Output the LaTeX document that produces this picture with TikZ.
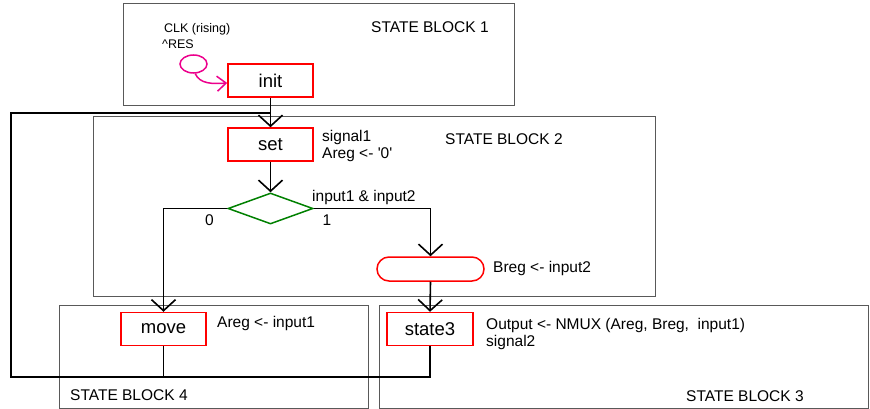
\documentclass[tikz,border=0pt]{standalone}
\usepackage{fontspec}
\setmainfont{Liberation Sans}
\usetikzlibrary{arrows.meta,shapes.geometric}
\begin{document}
\begin{tikzpicture}[x=1pt,y=-1pt,
  blockframe/.style={draw=black!65,line width=1pt},
  statebox/.style={draw=red,line width=1.5pt,minimum width=85pt,minimum height=33pt,inner sep=0pt,
    font=\fontsize{18.5}{20}\selectfont},
  decision/.style={draw=green!50!black,line width=1.5pt,diamond,minimum width=85pt,minimum height=31pt,inner sep=0pt},
  condbox/.style={draw=red,line width=1.5pt,rounded corners=12pt,minimum width=107pt,minimum height=24pt,inner sep=0pt},
  lbl/.style={inner sep=0pt,anchor=west,align=left,font=\fontsize{15.5}{17}\selectfont},
  small/.style={inner sep=0pt,anchor=west,align=left,font=\fontsize{12.5}{16}\selectfont},
  wire/.style={draw=black,line width=1.6pt},
  flow/.style={wire,-{Straight Barb[length=11pt,width=24pt,line width=1.6pt]}},
]
\useasboundingbox (0,0) rectangle (870,409);

% state blocks
\draw[blockframe] (123,4) rectangle (514,106);
\draw[blockframe] (93,117) rectangle (655,296);
\draw[blockframe] (59,305) rectangle (368,408);
\draw[blockframe] (379,305) rectangle (868,408);

\node[lbl] (sb1) at (371,27) {STATE BLOCK 1};
\node[lbl] (sb2) at (445,139) {STATE BLOCK 2};
\node[lbl] (sb4) at (70,395) {STATE BLOCK 4};
\node[lbl] (sb3) at (686,396) {STATE BLOCK 3};

% states
\node[statebox,fill=white] (init) at (270.5,80.5) {init};
\node[statebox] (set) at (270.5,144.5) {set};
\node[decision] (dia) at (270.5,208.5) {};
\node[condbox] (cond) at (430.5,269) {};
\node[statebox] (move) at (163.5,329) {move};
\node[statebox,minimum width=86pt] (state3) at (430,329) {state3};

% reset loop
\node[ellipse,draw=magenta,line width=1.5pt,minimum width=27pt,minimum height=18pt,inner sep=0pt] (res) at (193.5,64) {};
\draw[magenta,line width=1.5pt,-{Straight Barb[length=9pt,width=15pt,line width=1.5pt]}]
  (res.-80) .. controls (200,84) and (212,84) .. ([yshift=-2.5pt]init.west);
\node[small] (clk) at (162,36) {\hspace*{2pt}CLK (rising)\\\textasciicircum RES};

% annotations
\node[lbl] (act1) at (322,146) {signal1\\Areg <- \textquotesingle 0\textquotesingle};
\node[lbl] (cnd) at (312,197) {input1 \& input2};
\node[lbl,anchor=center] (zero) at (209.5,220) {0};
\node[lbl,anchor=center] (one) at (327,220) {1};
\node[lbl] (act2) at (493,268) {Breg <- input2};
\node[lbl] (act4) at (217,323) {Areg <- input1};
\node[lbl] (act3) at (486,333.5) {Output <- NMUX (Areg, Breg, \ input1)\\signal2};

% connectors
\coordinate (bl) at (11,377);
\coordinate (tl) at (11,113);
\coordinate (tj) at (270.5,113);
\draw[flow] (init.south) -- (set.north);
\draw[flow] (set.south) -- (dia.north);
\draw[flow] (dia.west) -| (move.north);
\draw[flow] (dia.east) -| (cond.north);
\draw[flow] (cond.south) -- (state3.north);
\draw[wire] (state3.south) |- (bl) -- (tl) -- (tj);
\draw[wire] (move.south) -- (move.south |- bl);
\end{tikzpicture}
\end{document}
